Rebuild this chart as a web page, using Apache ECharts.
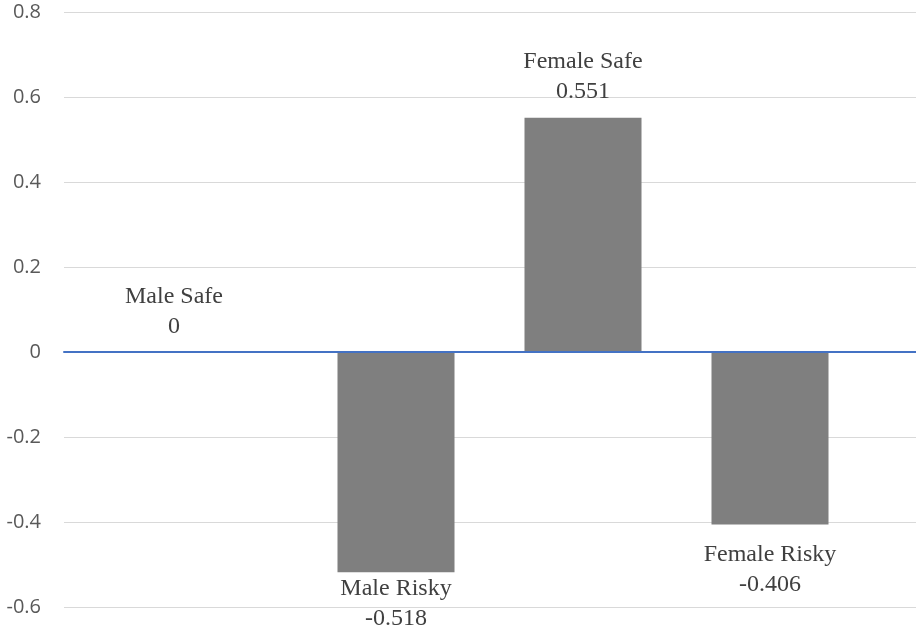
<!DOCTYPE html>
<html>
<head>
<meta charset="utf-8">
<script src="https://cdn.jsdelivr.net/npm/echarts@6/dist/echarts.min.js"></script>
<style>
  html, body { margin: 0; padding: 0; background: #fff; }
  #chart { width: 916px; height: 630px; }
</style>
</head>
<body>
<div id="chart"></div>
<script>
// Groups and their scores
const categories = ['Male Safe', 'Male Risky', 'Female Safe', 'Female Risky'];
const values = [0, -0.518, 0.551, -0.406];

// Value axis range and step
const yMin = -0.6;
const yMax = 0.8;
const yStep = 0.2;

const chart = echarts.init(document.getElementById('chart'));

// Per-bar label placement: above for non-negative, below for negative
const labelTweaks = [
  { position: 'top', distance: 10, offset: [-35, 0] },
  { position: 'bottom', distance: 2, offset: [0, 0] },
  { position: 'top', distance: 11, offset: [0, 0] },
  { position: 'bottom', distance: 15, offset: [0, 0] }
];

const barData = values.map((v, i) => ({
  value: v,
  label: labelTweaks[i]
}));

const yAxisBase = {
  type: 'value',
  min: yMin,
  max: yMax,
  interval: yStep,
  axisLine: { show: false },
  axisTick: { show: false }
};

chart.setOption({
  animation: false,
  backgroundColor: '#ffffff',
  grid: [
    // frame grid: gridlines, y labels and the zero line
    { left: 64, right: 0, top: 12, bottom: 23 },
    // bar grid
    { left: 115.5, width: 748, top: 12, bottom: 23 }
  ],
  xAxis: [
    {
      type: 'category',
      gridIndex: 0,
      data: categories,
      axisLabel: { show: false },
      axisTick: { show: false },
      axisLine: { show: true, onZero: true, lineStyle: { color: '#4472C4', width: 2 } },
      z: 5
    },
    {
      type: 'category',
      gridIndex: 1,
      data: categories,
      axisLabel: { show: false },
      axisTick: { show: false },
      axisLine: { show: false }
    }
  ],
  yAxis: [
    Object.assign({}, yAxisBase, {
      gridIndex: 0,
      axisLabel: {
        color: '#595959',
        fontFamily: 'Open Sans',
        fontSize: 20,
        margin: 23,
        formatter: v => String(Math.round(v * 10) / 10)
      },
      splitLine: { show: true, lineStyle: { color: '#d9d9d9', width: 1 } }
    }),
    Object.assign({}, yAxisBase, {
      gridIndex: 1,
      axisLabel: { show: false },
      splitLine: { show: false }
    })
  ],
  series: [
    {
      type: 'bar',
      xAxisIndex: 1,
      yAxisIndex: 1,
      data: barData,
      barWidth: 117,
      itemStyle: { color: '#7f7f7f' },
      z: 3,
      label: {
        show: true,
        fontFamily: 'Liberation Serif',
        fontSize: 24,
        lineHeight: 30,
        color: '#404040',
        formatter: p => p.name + '\n' + p.value
      }
    }
  ]
});
</script>
</body>
</html>
